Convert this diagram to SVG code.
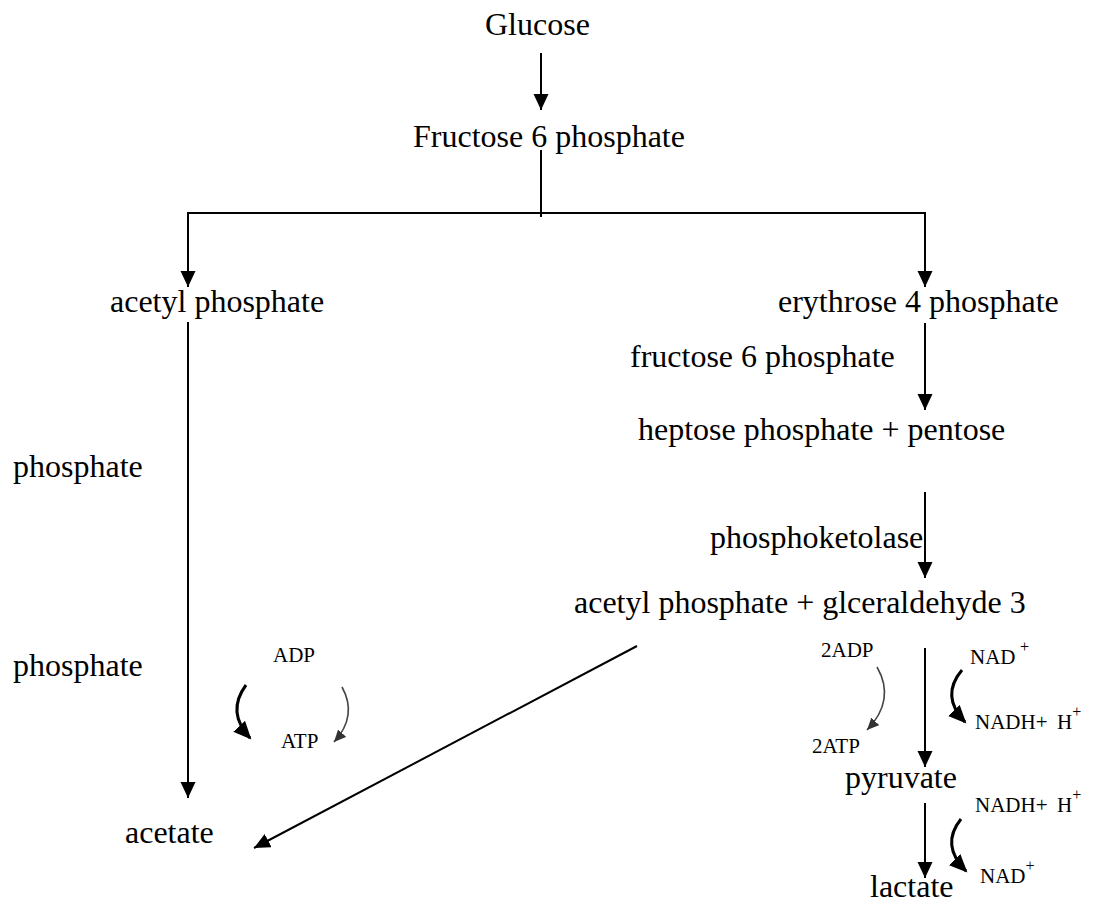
<svg xmlns="http://www.w3.org/2000/svg" width="1093" height="906" viewBox="0 0 1093 906">
<style>
text{font-family:"Liberation Serif","Times New Roman",serif;fill:#000}
.m{font-size:32px}
.s{font-size:21px}
.sup{font-size:16px}
.ln{stroke:#000;stroke-width:2;fill:none}
.cv{stroke:#000;stroke-width:3;fill:none}
.tn{stroke:#444;stroke-width:1.6;fill:none}
</style>
<defs>
<marker id="ah" markerUnits="userSpaceOnUse" markerWidth="18" markerHeight="16" refX="16" refY="7.5" orient="auto" viewBox="0 0 18 16">
<path d="M0,0 L16,7.5 L0,15 z" fill="#000"/>
</marker>
<marker id="ahc" markerUnits="userSpaceOnUse" markerWidth="20" markerHeight="18" refX="16" refY="8" orient="auto" viewBox="0 0 20 18">
<path d="M0,0 L18,8 L0,16 z" fill="#000"/>
</marker>
<marker id="aht" markerUnits="userSpaceOnUse" markerWidth="14" markerHeight="12" refX="12" refY="5.5" orient="auto" viewBox="0 0 14 12">
<path d="M0,0 L12,5.5 L0,11 z" fill="#333"/>
</marker>
</defs>
<g id="connectors">
<line class="ln" x1="541" y1="53" x2="541" y2="110" marker-end="url(#ah)"/>
<line class="ln" x1="541" y1="150" x2="541" y2="217"/>
<line class="ln" x1="188" y1="213" x2="925" y2="213"/>
<line class="ln" x1="188" y1="212" x2="188" y2="287" marker-end="url(#ah)"/>
<line class="ln" x1="925" y1="212" x2="925" y2="287" marker-end="url(#ah)"/>
<line class="ln" x1="188" y1="322" x2="188" y2="798" marker-end="url(#ah)"/>
<line class="ln" x1="925" y1="323" x2="925" y2="410" marker-end="url(#ah)"/>
<line class="ln" x1="925" y1="492" x2="925" y2="578" marker-end="url(#ah)"/>
<line class="ln" x1="925" y1="648" x2="925" y2="767" marker-end="url(#ah)"/>
<line class="ln" x1="925" y1="803" x2="925" y2="878" marker-end="url(#ah)"/>
<line class="ln" x1="637" y1="646" x2="254" y2="848" marker-end="url(#ah)"/>
<path class="cv" d="M246,685 Q226,712 250,738" marker-end="url(#ahc)"/>
<path class="tn" d="M342,687 Q358,716 334,742" marker-end="url(#aht)"/>
<path class="tn" d="M877,667 Q896,700 867,730" marker-end="url(#aht)"/>
<path class="cv" d="M962,670 Q940,696 965,722" marker-end="url(#ahc)"/>
<path class="cv" d="M961,819 Q940,845 966,871" marker-end="url(#ahc)"/>
</g>
<g id="n-glucose"><text class="m" x="485" y="35">Glucose</text></g>
<g id="n-f6p"><text class="m" x="413" y="147">Fructose 6 phosphate</text></g>
<g id="n-acetylp"><text class="m" x="110" y="312">acetyl phosphate</text></g>
<g id="n-e4p"><text class="m" x="778" y="312">erythrose 4 phosphate</text></g>
<g id="n-f6p2"><text class="m" x="630" y="367">fructose 6 phosphate</text></g>
<g id="n-heptose"><text class="m" x="638" y="440">heptose phosphate + pentose</text></g>
<g id="n-phos1"><text class="m" x="13" y="477">phosphate</text></g>
<g id="n-pk"><text class="m" x="710" y="548">phosphoketolase</text></g>
<g id="n-apg"><text class="m" x="574" y="613">acetyl phosphate + glceraldehyde 3</text></g>
<g id="n-phos2"><text class="m" x="13" y="676">phosphate</text></g>
<g id="n-adp"><text class="s" x="273" y="662">ADP</text></g>
<g id="n-atp"><text class="s" x="281" y="748">ATP</text></g>
<g id="n-2adp"><text class="s" x="821" y="657">2ADP</text></g>
<g id="n-2atp"><text class="s" x="812" y="753">2ATP</text></g>
<g id="n-nad1"><text class="s" x="970" y="664">NAD<tspan class="sup" x="1020" dy="-12">+</tspan></text></g>
<g id="n-nadh1"><text class="s" x="975" y="729">NADH+<tspan x="1057">H</tspan><tspan class="sup" dy="-12">+</tspan></text></g>
<g id="n-pyruvate"><text class="m" x="845" y="788">pyruvate</text></g>
<g id="n-nadh2"><text class="s" x="975" y="812">NADH+<tspan x="1057">H</tspan><tspan class="sup" dy="-12">+</tspan></text></g>
<g id="n-acetate"><text class="m" x="125" y="843">acetate</text></g>
<g id="n-nad2"><text class="s" x="980" y="883">NAD<tspan class="sup" dy="-12">+</tspan></text></g>
<g id="n-lactate"><text class="m" x="870" y="897">lactate</text></g>
</svg>
